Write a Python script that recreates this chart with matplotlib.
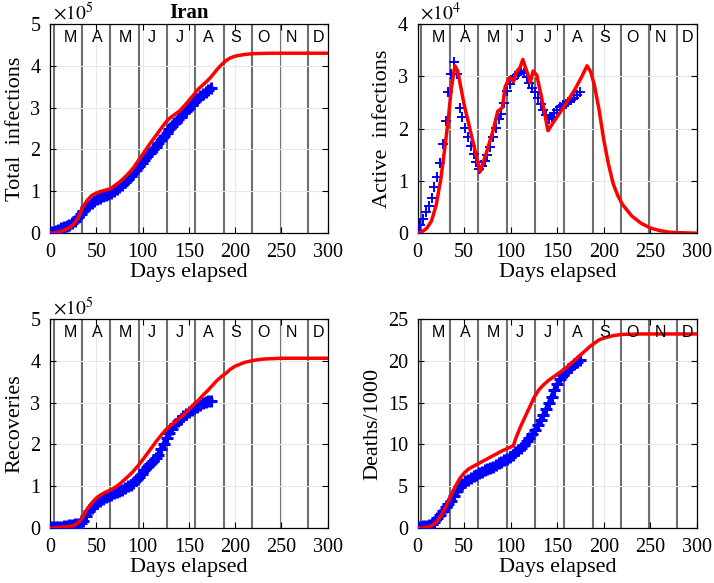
import matplotlib
matplotlib.use("Agg")
import matplotlib.pyplot as plt

# month boundaries (days elapsed) and their letters
month_starts = [4, 35, 65, 96, 126, 157, 188, 218, 249, 279]
month_letters = ['M', 'A', 'M', 'J', 'J', 'A', 'S', 'O', 'N', 'D']
letter_days = [22, 51, 81, 110, 140, 171, 201, 231, 261, 290]

# reported data (every 3 days)
data_days = list(range(0, 175, 3))
total_data = [0.02, 0.03, 0.05, 0.08, 0.12, 0.15, 0.18, 0.2, 0.24, 0.3,
              0.38, 0.45, 0.53, 0.62, 0.68, 0.73, 0.78, 0.81, 0.85, 0.88,
              0.91, 0.94, 0.97, 1.01, 1.06, 1.11, 1.16, 1.22, 1.29, 1.37,
              1.45, 1.52, 1.6, 1.68, 1.75, 1.84, 1.91, 2.0, 2.07, 2.15,
              2.23, 2.32, 2.4, 2.48, 2.56, 2.64, 2.72, 2.78, 2.86, 2.93,
              3.0, 3.07, 3.14, 3.21, 3.27, 3.33, 3.38, 3.43, 3.48]
active_data = [0.05, 0.15, 0.28, 0.4, 0.52, 0.68, 0.88, 1.07, 1.35, 1.7,
               2.15, 2.7, 3.04, 3.27, 3.05, 2.4, 2.22, 2.02, 1.83, 1.66,
               1.52, 1.37, 1.22, 1.28, 1.38, 1.5, 1.64, 1.84, 2.02, 2.18,
               2.28, 2.48, 2.72, 2.86, 2.94, 3.0, 3.04, 3.1, 3.06, 2.98,
               2.88, 2.78, 2.69, 2.58, 2.46, 2.35, 2.25, 2.18, 2.23, 2.3,
               2.36, 2.41, 2.45, 2.47, 2.5, 2.54, 2.58, 2.64, 2.7]
recov_data = [0.03, 0.03, 0.03, 0.04, 0.04, 0.05, 0.06, 0.07, 0.08, 0.09,
              0.1, 0.12, 0.18, 0.3, 0.4, 0.48, 0.55, 0.61, 0.66, 0.7,
              0.74, 0.77, 0.8, 0.83, 0.86, 0.89, 0.92, 0.96, 1.0, 1.04,
              1.09, 1.15, 1.22, 1.3, 1.38, 1.46, 1.53, 1.6, 1.68, 1.76,
              1.9, 2.02, 2.16, 2.28, 2.38, 2.48, 2.55, 2.61, 2.67, 2.72,
              2.77, 2.82, 2.86, 2.9, 2.94, 2.98, 3.02, 3.04, 3.04]
deaths_data = [0.2, 0.2, 0.25, 0.3, 0.4, 0.5, 0.8, 1.2, 1.6, 2.1,
               2.5, 2.9, 3.3, 3.8, 4.4, 4.9, 5.3, 5.6, 5.8, 6.0,
               6.2, 6.4, 6.6, 6.75, 6.9, 7.05, 7.2, 7.35, 7.55, 7.75,
               7.9, 8.1, 8.3, 8.55, 8.8, 9.05, 9.3, 9.6, 9.95, 10.4,
               10.8, 11.2, 11.7, 12.3, 12.9, 13.5, 14.2, 14.9, 15.7, 16.5,
               17.2, 17.8, 18.3, 18.7, 19.0, 19.3, 19.6, 19.9, 20.1]

# model fits
total_model_days = [0, 5, 10, 15, 20, 25, 30, 35, 40, 45, 50, 55, 60, 65, 70, 75, 80, 85, 90, 95,
                    100, 105, 110, 115, 120, 125, 130, 135, 140, 145, 150, 155, 160, 165, 170,
                    175, 180, 185, 190, 195, 200, 210, 220, 240, 270, 300]
total_model = [0.0, 0.01, 0.03, 0.07, 0.12, 0.2, 0.35, 0.6, 0.78, 0.9,
               0.96, 1.0, 1.03, 1.06, 1.14, 1.22, 1.32, 1.43, 1.56, 1.72,
               1.88, 2.04, 2.2, 2.35, 2.5, 2.65, 2.76, 2.84, 2.92, 3.04,
               3.17, 3.3, 3.44, 3.54, 3.64, 3.76, 3.9, 4.02, 4.12, 4.19,
               4.23, 4.27, 4.29, 4.3, 4.3, 4.3]
active_model_days = [0, 5, 10, 15, 20, 25, 30, 33, 36, 40, 43, 50, 58, 67, 74, 81, 86, 91, 94, 99,
                     103, 106, 110, 113, 119, 121, 124, 128, 133, 140, 147, 158, 169, 176, 182,
                     186, 190, 195, 200, 205, 210, 215, 220, 230, 240, 250, 260, 270, 280, 300]
active_model = [0.0, 0.03, 0.1, 0.24, 0.55, 1.05, 1.75, 2.2, 2.75, 3.2,
                3.1, 2.45, 1.85, 1.17, 1.55, 1.96, 2.33, 2.4, 2.8, 2.98,
                2.9, 3.08, 3.17, 3.32, 3.0, 2.88, 3.1, 3.02, 2.6, 1.96,
                2.15, 2.44, 2.75, 2.98, 3.2, 3.08, 2.82, 2.35, 1.78, 1.32,
                0.95, 0.72, 0.55, 0.33, 0.19, 0.1, 0.05, 0.02, 0.01, 0.0]
recov_model_days = [0, 5, 10, 15, 20, 25, 30, 35, 40, 45, 50, 55, 60, 65, 70, 75, 80, 85, 90, 95,
                    100, 105, 110, 115, 120, 125, 130, 135, 140, 145, 150, 155, 160, 165, 170,
                    175, 180, 185, 190, 195, 200, 210, 220, 230, 250, 300]
recov_model = [0.0, 0.01, 0.02, 0.03, 0.04, 0.06, 0.12, 0.25, 0.45, 0.6,
               0.72, 0.8, 0.86, 0.91, 0.97, 1.05, 1.15, 1.25, 1.36, 1.49,
               1.63, 1.78, 1.93, 2.08, 2.22, 2.35, 2.45, 2.54, 2.63, 2.72,
               2.83, 2.95, 3.05, 3.17, 3.28, 3.4, 3.52, 3.62, 3.7, 3.8,
               3.87, 3.96, 4.01, 4.04, 4.06, 4.06]
deaths_model_days = [0, 5, 10, 15, 20, 25, 30, 35, 40, 45, 50, 55, 60, 65, 70, 75, 80, 85, 90, 95,
                     100, 103, 105, 110, 115, 120, 125, 130, 135, 140, 145, 150, 155, 160, 165,
                     170, 175, 180, 185, 190, 195, 200, 210, 220, 240, 300]
deaths_model = [0.0, 0.02, 0.1, 0.3, 0.7, 1.5, 2.5, 3.7, 4.9, 5.9,
                6.6, 7.1, 7.4, 7.7, 8.0, 8.3, 8.6, 8.9, 9.2, 9.45,
                9.7, 9.9, 10.6, 12.0, 13.2, 14.4, 15.6, 16.5, 17.1, 17.6,
                18.0, 18.4, 18.8, 19.2, 19.7, 20.2, 20.7, 21.2, 21.7, 22.1,
                22.5, 22.7, 23.0, 23.15, 23.2, 23.2]


def draw_panel(ax, data, model_days, model, ylabel, ymax, ystep, scale=None, band=True):
    # month separators and letters
    for start in month_starts:
        ax.axvline(start, color='#6e6e6e', lw=1.5, zorder=1)
    for day, letter in zip(letter_days, month_letters):
        ax.text(day, 0.935, letter, transform=ax.get_xaxis_transform(),
                ha='center', va='center', fontsize=11.5, family='Liberation Sans', zorder=5)

    if band:
        # cumulative series: dense markers form a thick band
        ax.plot(data_days, data, color='blue', lw=3.5, zorder=3)
        ax.plot(data_days, data, linestyle='none', marker='+', color='blue',
                markersize=9, markeredgewidth=2.2, zorder=3)
    else:
        ax.plot(data_days, data, linestyle='none', marker='+', color='blue',
                markersize=7, markeredgewidth=1.4, zorder=3)
    ax.plot(model_days, model, color='red', lw=2.5, zorder=4)

    ax.set_xlim(0, 300)
    ax.set_ylim(0, ymax)
    ax.set_xticks(range(0, 301, 50))
    ax.set_yticks([ystep * k for k in range(int(round(ymax / ystep)) + 1)])
    ax.grid(True, color='#e8e8e8', lw=0.8, zorder=0)
    ax.tick_params(direction='in', top=True, right=True, length=4, width=0.8,
                   labelsize=14.5, pad=7)
    for sp in ax.spines.values():
        sp.set_linewidth(0.9)
    ax.set_xlabel('Days elapsed', fontsize=16, labelpad=1)
    ax.set_ylabel(ylabel, fontsize=16, labelpad=4)
    if scale is not None:
        ax.text(0.01, 1.0, r'$\times10^{%d}$' % scale, transform=ax.transAxes,
                ha='left', va='bottom', fontsize=14)


def main():
    plt.rcParams['font.family'] = ['Liberation Serif', 'DejaVu Serif']
    plt.rcParams['mathtext.fontset'] = 'stix'

    fig = plt.figure(figsize=(7.14, 5.83), dpi=100)
    ax1 = fig.add_axes([0.070, 0.600, 0.389, 0.359])
    ax2 = fig.add_axes([0.585, 0.600, 0.391, 0.359])
    ax3 = fig.add_axes([0.070, 0.094, 0.389, 0.359])
    ax4 = fig.add_axes([0.585, 0.094, 0.391, 0.359])

    draw_panel(ax1, total_data, total_model_days, total_model, 'Total  infections', 5, 1, scale=5)
    draw_panel(ax2, active_data, active_model_days, active_model, 'Active  infections', 4, 1,
               scale=4, band=False)
    draw_panel(ax3, recov_data, recov_model_days, recov_model, 'Recoveries', 5, 1, scale=5)
    draw_panel(ax4, deaths_data, deaths_model_days, deaths_model, 'Deaths/1000', 25, 5)

    ax1.set_title('Iran', fontweight='bold', fontsize=15, pad=4)

    fig.savefig('out.png', dpi=100)


if __name__ == "__main__":
    main()
